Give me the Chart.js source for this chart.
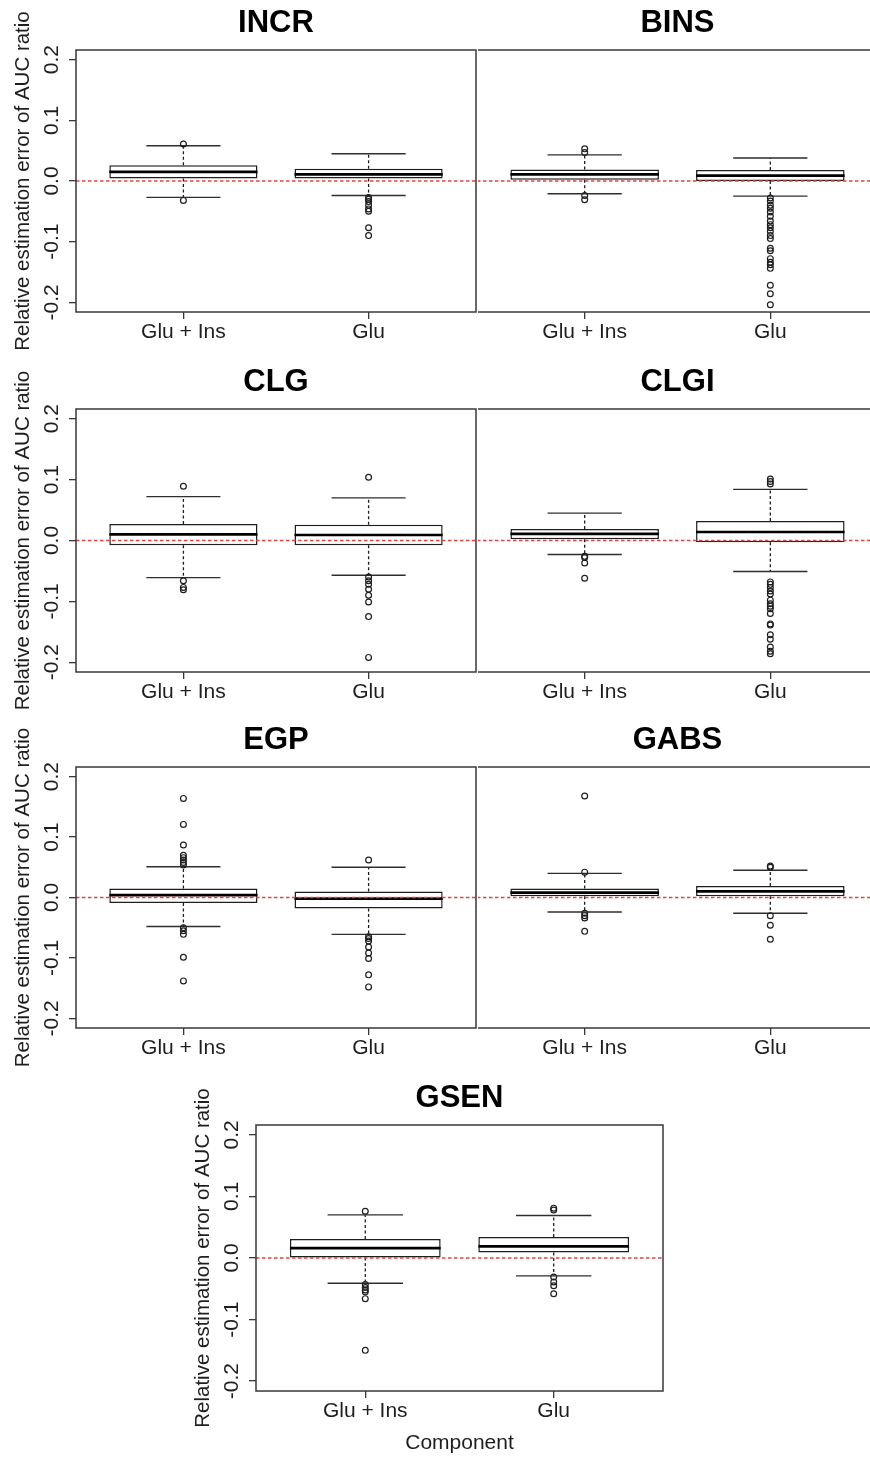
<!DOCTYPE html>
<html>
<head>
<meta charset="utf-8">
<script src="https://cdn.jsdelivr.net/npm/chart.js@4.4.1/dist/chart.umd.min.js"></script>
<style>
  body { margin: 0; background: #fff; }
  #wrap { position: relative; width: 870px; height: 1457px; overflow: hidden; background: #fff; }
  #wrap canvas { position: absolute; }
</style>
</head>
<body>
<div id="wrap"></div>
<script>
// data
const panels = ["INCR", "BINS", "CLG", "CLGI", "EGP", "GABS", "GSEN"];
const components = ["Glu + Ins", "Glu"];
const yTicks = [-0.2, -0.1, 0, 0.1, 0.2];

// one pair per panel: [Glu + Ins, Glu]
const lowerWhisker = [[-0.027, -0.024], [-0.021, -0.025], [-0.061, -0.057], [-0.023, -0.051], [-0.048, -0.061], [-0.024, -0.026], [-0.041, -0.029]];
const lowerHinge   = [[0.004, 0.004], [0.002, 0.000], [-0.008, -0.008], [0.002, -0.003], [-0.009, -0.018], [0.002, 0.002], [0.001, 0.009]];
const medians      = [[0.015, 0.011], [0.011, 0.009], [0.010, 0.009], [0.011, 0.014], [0.004, -0.002], [0.008, 0.010], [0.016, 0.019]];
const upperHinge   = [[0.026, 0.020], [0.019, 0.018], [0.027, 0.026], [0.019, 0.032], [0.015, 0.010], [0.015, 0.019], [0.031, 0.034]];
const upperWhisker = [[0.058, 0.045], [0.043, 0.038], [0.072, 0.070], [0.045, 0.084], [0.051, 0.050], [0.040, 0.045], [0.070, 0.069]];

const outliersGluIns = [
  [0.061, -0.032],
  [0.053, 0.047, -0.024, -0.031],
  [0.089, -0.066, -0.077, -0.081],
  [-0.026, -0.028, -0.037, -0.062],
  [0.164, 0.121, 0.087, 0.070, 0.066, 0.062, 0.058, 0.054, -0.050, -0.055, -0.061, -0.099, -0.138],
  [0.168, 0.042, -0.026, -0.030, -0.034, -0.056],
  [0.076, -0.043, -0.048, -0.052, -0.055, -0.066, -0.150]
];
const outliersGlu = [
  [-0.027, -0.030, -0.034, -0.040, -0.046, -0.050, -0.077, -0.090],
  [-0.028, -0.033, -0.040, -0.045, -0.051, -0.058, -0.066, -0.072, -0.077, -0.083, -0.090, -0.095, -0.111, -0.115, -0.128, -0.134, -0.138, -0.144, -0.172, -0.186, -0.204],
  [0.104, -0.060, -0.066, -0.072, -0.080, -0.090, -0.101, -0.125, -0.192],
  [0.101, 0.097, 0.093, -0.068, -0.072, -0.077, -0.083, -0.088, -0.098, -0.104, -0.108, -0.112, -0.120, -0.137, -0.139, -0.155, -0.162, -0.175, -0.182, -0.186],
  [0.062, -0.065, -0.068, -0.072, -0.082, -0.092, -0.101, -0.128, -0.148],
  [0.052, 0.050, -0.030, -0.046, -0.069],
  [0.081, 0.078, -0.031, -0.039, -0.045, -0.058]
];

// where each panel sits on the page
const placement = [
  { left: 0,   plotTop: 50,   plotH: 262, width: 478, side: "L" },
  { left: 476, plotTop: 50,   plotH: 262, width: 402, side: "R" },
  { left: 0,   plotTop: 409,  plotH: 263, width: 478, side: "L" },
  { left: 476, plotTop: 409,  plotH: 263, width: 402, side: "R" },
  { left: 0,   plotTop: 767,  plotH: 261, width: 478, side: "L" },
  { left: 476, plotTop: 767,  plotH: 261, width: 402, side: "R" },
  { left: 180, plotTop: 1125, plotH: 266, width: 485, side: "L", xTitle: "Component" }
];

const family = '"Liberation Sans", Arial, Helvetica, sans-serif';
const ink = "#1e1e1e";
const frameColor = "#383838";
Chart.defaults.font.family = family;

// white background, plot frame and bold panel title
const panelDecor = {
  id: "panelDecor",
  beforeDraw(chart) {
    const ctx = chart.ctx;
    ctx.save();
    ctx.fillStyle = "#fff";
    ctx.fillRect(0, 0, chart.width, chart.height);
    ctx.restore();
  },
  afterDraw(chart, args, opts) {
    const { ctx, chartArea: a } = chart;
    ctx.save();
    ctx.strokeStyle = frameColor;
    ctx.lineWidth = 1.5;
    ctx.strokeRect(a.left, a.top, a.right - a.left, a.bottom - a.top);
    ctx.fillStyle = "#000";
    ctx.font = "bold 31px " + family;
    ctx.textAlign = "center";
    ctx.textBaseline = "alphabetic";
    ctx.fillText(opts.title, (a.left + a.right) / 2, a.top - 18.5);
    ctx.restore();
  }
};

function makePanel(p) {
  const pl = placement[p];
  const xh = pl.xTitle ? 66 : 40;
  const height = 50 + pl.plotH + xh;
  const canvas = document.createElement("canvas");
  canvas.width = pl.width;
  canvas.height = height;
  canvas.style.left = pl.left + "px";
  canvas.style.top = (pl.plotTop - 50) + "px";
  canvas.style.zIndex = pl.side === "L" ? 2 : 1;
  document.getElementById("wrap").appendChild(canvas);

  const boxes = [], med = [], whisk = [], staple = [], outl = [];
  components.forEach((c, i) => {
    const x = i + 1;
    boxes.push({ x: x, y: [lowerHinge[p][i], upperHinge[p][i]] });
    med.push({ x: x - 0.4, y: medians[p][i] }, { x: x + 0.4, y: medians[p][i] }, { x: x + 0.45, y: null });
    whisk.push({ x: x, y: upperHinge[p][i] }, { x: x, y: upperWhisker[p][i] }, { x: x, y: null },
               { x: x, y: lowerHinge[p][i] }, { x: x, y: lowerWhisker[p][i] }, { x: x, y: null });
    staple.push({ x: x - 0.2, y: upperWhisker[p][i] }, { x: x + 0.2, y: upperWhisker[p][i] }, { x: x + 0.2, y: null },
                { x: x - 0.2, y: lowerWhisker[p][i] }, { x: x + 0.2, y: lowerWhisker[p][i] }, { x: x + 0.2, y: null });
  });
  outliersGluIns[p].forEach(v => outl.push({ x: 1, y: v }));
  outliersGlu[p].forEach(v => outl.push({ x: 2, y: v }));

  const leftSide = pl.side === "L";
  const yScale = leftSide ? {
    type: "linear", min: -0.216, max: 0.216,
    afterBuildTicks: s => { s.ticks = yTicks.map(v => ({ value: v })); },
    afterFit: s => { s.width = 76; },
    ticks: {
      callback: v => v.toFixed(1),
      minRotation: 90, maxRotation: 90, crossAlign: "center", padding: -1,
      font: { size: 21 }, color: ink
    },
    grid: { drawOnChartArea: false, tickLength: 7, color: frameColor, lineWidth: 1.3 },
    border: { display: false },
    title: {
      display: true, text: "Relative estimation error of AUC ratio",
      font: { size: 20.5 }, color: ink, padding: { top: 11, bottom: 0 }
    }
  } : { type: "linear", min: -0.216, max: 0.216, display: false };

  new Chart(canvas.getContext("2d"), {
    type: "bar",
    data: {
      datasets: [
        { type: "line", data: [{ x: 0.42, y: 0 }, { x: 2.58, y: 0 }], borderColor: "#e04444",
          borderWidth: 1.4, borderDash: [3.5, 2.5], pointRadius: 0, order: 0 },
        { type: "line", data: med, borderColor: "#000", borderWidth: 2.7, pointRadius: 0,
          spanGaps: false, borderCapStyle: "butt", order: 1 },
        { type: "scatter", data: outl, pointStyle: "circle", pointRadius: 2.9, pointBorderWidth: 1.2,
          pointBorderColor: ink, pointBackgroundColor: "rgba(0,0,0,0)", order: 2 },
        { type: "line", data: staple, borderColor: "#2e2e2e", borderWidth: 1.4, pointRadius: 0,
          spanGaps: false, order: 3 },
        { type: "line", data: whisk, borderColor: ink, borderWidth: 1.3, borderDash: [3, 2.5], pointRadius: 0,
          spanGaps: false, order: 4 },
        { type: "bar", data: boxes, backgroundColor: "#fff", borderColor: ink, borderWidth: 1.5,
          borderSkipped: false, barPercentage: 0.8, categoryPercentage: 1, order: 5 }
      ]
    },
    options: {
      responsive: false,
      animation: false,
      devicePixelRatio: 1,
      events: [],
      layout: { autoPadding: false, padding: { top: 50, left: leftSide ? 0 : 1, right: leftSide ? 2 : 0, bottom: 0 } },
      plugins: { legend: { display: false }, tooltip: { enabled: false }, panelDecor: { title: panels[p] } },
      scales: {
        x: {
          type: "linear", min: 0.42, max: 2.58, offset: false,
          afterBuildTicks: s => { s.ticks = components.map((c, i) => ({ value: i + 1 })); },
          afterFit: s => { s.height = xh; },
          ticks: { callback: v => components[Math.round(v) - 1], font: { size: 21 }, color: ink,
                   padding: 1, maxRotation: 0, autoSkip: false },
          grid: { drawOnChartArea: false, tickLength: 7, offset: false, color: frameColor, lineWidth: 1.3 },
          border: { display: false },
          title: { display: !!pl.xTitle, text: pl.xTitle || "", font: { size: 21 }, color: ink,
                   padding: { top: 0, bottom: 1 } }
        },
        y: yScale
      }
    },
    plugins: [panelDecor]
  });
}

panels.forEach((name, p) => makePanel(p));
</script>
</body>
</html>
